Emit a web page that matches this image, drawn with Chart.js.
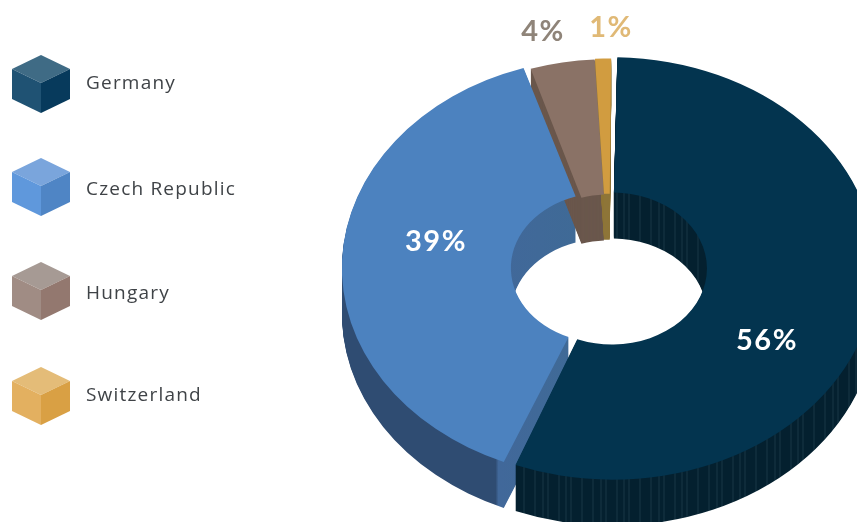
<!DOCTYPE html>
<html>
<head>
<meta charset="utf-8">
<style>
  html, body { margin: 0; padding: 0; background: #fff; }
  canvas { display: block; }
</style>
<script src="https://cdn.jsdelivr.net/npm/chart.js@4/dist/chart.umd.min.js"></script>
</head>
<body>
<canvas id="shareChart" width="857" height="522"></canvas>
<script>
const countries = ['Germany', 'Czech Republic', 'Hungary', 'Switzerland'];
const shares = [56, 39, 4, 1];
const shareLabels = ['56%', '39%', '4%', '1%'];

const topColors = ['#03344f', '#4c82bf', '#8a7266', '#d19c40'];
const sideColors = ['#04202f', '#2f4c72', '#6a574c', '#8f7638'];
const labelColors = ['#ffffff', '#ffffff', '#8f8479', '#e0b976'];
const cubeColors = [
  ['#3f6b85', '#1f5273', '#073a5c'],
  ['#7aa5dc', '#5f98dc', '#4f85c5'],
  ['#a69a94', '#a08c84', '#93786f'],
  ['#e4bc78', '#e3b060', '#d9a044']
];

// where things sit on the page
const centerX = 609;
const centerY = 268;
const squash = 0.8;
const depth = 46;
const labelSpots = [[767, 341], [436, 242], [543, 32], [611, 28]];
const cubeTops = [55, 158, 262, 367];
const legendTextY = [84, 190, 294, 396];

function streakPattern(ctx) {
  const tile = document.createElement('canvas');
  tile.width = 58;
  tile.height = 4;
  const t = tile.getContext('2d');
  t.fillStyle = sideColors[0];
  t.fillRect(0, 0, 58, 4);
  t.fillStyle = 'rgba(120,155,175,0.18)';
  [3, 11, 16, 27, 34, 39, 50].forEach(x => t.fillRect(x, 0, 1, 4));
  return ctx.createPattern(tile, 'repeat');
}

function blueSide(ctx, shiftX) {
  const g = ctx.createLinearGradient(483 + shiftX, 0, 583 + shiftX, 0);
  g.addColorStop(0, sideColors[1]);
  g.addColorStop(0.17, sideColors[1]);
  g.addColorStop(0.2, '#41689a');
  g.addColorStop(1, '#3f6a96');
  return g;
}

const extrude = {
  id: 'extrude',
  beforeDatasetsDraw(chart) {
    const ctx = chart.ctx;
    const arcs = chart.getDatasetMeta(0).data;
    const shiftX = arcs[0].x - centerX;
    ctx.save();
    ctx.translate(centerX, centerY);
    ctx.scale(1, squash);
    ctx.translate(-arcs[0].x, -arcs[0].y);

    const sides = [streakPattern(ctx), blueSide(ctx, shiftX), sideColors[2], sideColors[3]];
    [1, 2, 3, 0].forEach(i => {
      const arc = arcs[i];
      const flat = Object.create(arc);
      flat.options = {
        backgroundColor: sides[i],
        borderWidth: 0,
        offset: arc.options.offset,
        spacing: arc.options.spacing,
        borderRadius: 0,
        circular: true
      };
      for (let d = depth; d >= 1; d--) {
        ctx.save();
        ctx.translate(0, d / squash);
        flat.draw(ctx);
        ctx.restore();
      }
    });
  },
  afterDatasetsDraw(chart) {
    chart.ctx.restore();
  }
};

const percentLabels = {
  id: 'percentLabels',
  afterDraw(chart) {
    const ctx = chart.ctx;
    ctx.save();
    ctx.font = 'bold 29px Lato';
    ctx.letterSpacing = '1.5px';
    ctx.textAlign = 'center';
    ctx.textBaseline = 'middle';
    shareLabels.forEach((text, i) => {
      ctx.fillStyle = labelColors[i];
      ctx.fillText(text, labelSpots[i][0], labelSpots[i][1]);
    });
    ctx.restore();
  }
};

const cubeLegend = {
  id: 'cubeLegend',
  afterDraw(chart) {
    const ctx = chart.ctx;
    const face = (color, pts) => {
      ctx.fillStyle = color;
      ctx.beginPath();
      pts.forEach((p, i) => i ? ctx.lineTo(p[0], p[1]) : ctx.moveTo(p[0], p[1]));
      ctx.closePath();
      ctx.fill();
    };
    ctx.save();
    countries.forEach((name, i) => {
      const y = cubeTops[i];
      const x = 12;
      face(cubeColors[i][0], [[x + 29, y], [x + 58, y + 14], [x + 29, y + 28], [x, y + 14]]);
      face(cubeColors[i][1], [[x, y + 14], [x + 29, y + 28], [x + 29, y + 58], [x, y + 44]]);
      face(cubeColors[i][2], [[x + 58, y + 14], [x + 29, y + 28], [x + 29, y + 58], [x + 58, y + 44]]);
      ctx.fillStyle = '#3f4347';
      ctx.font = '19px "Open Sans"';
      ctx.letterSpacing = '1.2px';
      ctx.textAlign = 'left';
      ctx.textBaseline = 'middle';
      ctx.fillText(name, 86, legendTextY[i]);
    });
    ctx.restore();
  }
};

new Chart(document.getElementById('shareChart').getContext('2d'), {
  type: 'doughnut',
  data: {
    labels: countries,
    datasets: [{
      data: shares,
      backgroundColor: topColors,
      borderWidth: 0,
      spacing: 2,
      offset: [12, 18, 0, 2],
      clip: false
    }]
  },
  options: {
    responsive: false,
    animation: false,
    radius: 260,
    cutout: '35%',
    rotation: 0.5,
    plugins: {
      legend: { display: false },
      tooltip: { enabled: false }
    }
  },
  plugins: [extrude, percentLabels, cubeLegend]
});
</script>
</body>
</html>
